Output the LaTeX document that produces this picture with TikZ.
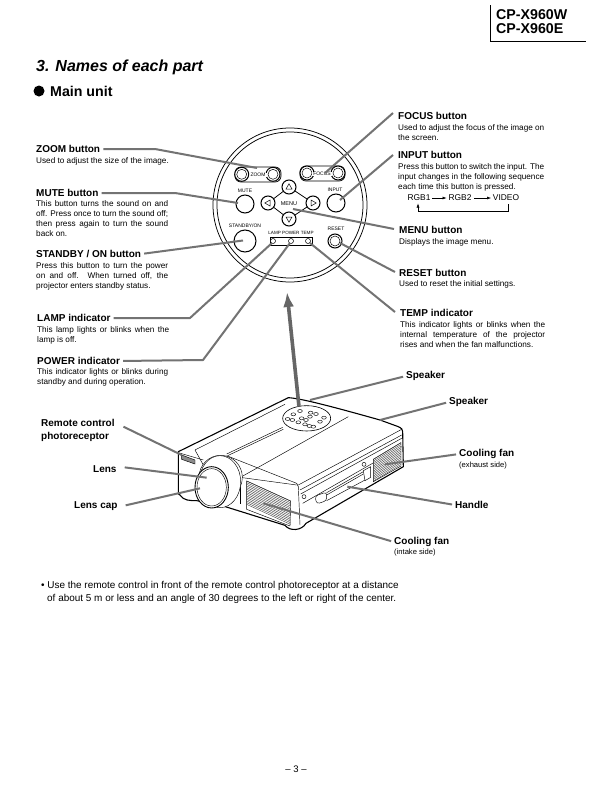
\documentclass[tikz,border=0pt]{standalone}
\usepackage{fontspec}
\setmainfont{Liberation Sans}
\usetikzlibrary{arrows.meta}
\newcommand\JL[2]{\hbox to #1pt{#2}}
\tikzset{
  x=1pt,y=-1pt,
  head/.style={anchor=west,inner sep=0pt,font=\fontsize{10}{12}\selectfont\bfseries},
  bodytxt/.style={anchor=north west,inner sep=0pt,align=left,font=\fontsize{8.2}{10.2}\selectfont},
  tiny/.style={inner sep=0pt,font=\fontsize{5}{6}\selectfont},
  lead/.style={draw=black!55,line width=2pt,shorten <=3pt,line join=round},
  panel/.style={draw=black,line width=0.75pt},
  btn/.style={draw=black,line width=1pt,fill=white},
  pj/.style={draw=black,line width=0.45pt},
  pjo/.style={draw=black,line width=1.1pt,line join=round},
  vent/.style={draw=black!75,line width=0.4pt},
}
\begin{document}
\begin{tikzpicture}
\useasboundingbox (0,0) rectangle (593,795);
\fill[white] (0,0) rectangle (593,795);
% header
\node[anchor=west,inner sep=0pt,font=\fontsize{14.2}{14}\selectfont\bfseries] (hw) at (496,15) {CP-X960W};
\node[anchor=west,inner sep=0pt,font=\fontsize{14.2}{14}\selectfont\bfseries] (he) at (496,29) {CP-X960E};
\coordinate (ha) at (490,5); \coordinate (hb) at (490,41); \coordinate (hc) at (586,41);
\draw[line width=1pt] (ha) -- (hb) -- (hc);
\node[anchor=west,inner sep=0pt,font=\fontsize{16}{20}\selectfont\bfseries\itshape] (title) at (36,67) {3. Names of each part};
\node[circle,fill=black,minimum size=11pt,inner sep=0pt] (dot) at (39,91) {};
\node[anchor=west,inner sep=0pt,font=\fontsize{14.2}{16}\selectfont\bfseries] (main) at (50,91) {Main unit};

% panel
\node[circle,panel,minimum size=154pt,inner sep=0pt] (circO) at (290,205) {};
\node[circle,panel,minimum size=146pt,inner sep=0pt] (circI) at (290,205) {};
\draw[panel,rounded corners=6pt] (235,167) rectangle (281,182);
\draw[panel,rounded corners=6pt] (300,166) rectangle (345,181);
\foreach \n/\x/\y in {zl/241.7/174.3,zr/273/174.3,fl/307/173,fr/338/173}{
  \node[circle,btn,minimum size=14pt,inner sep=0pt] (\n) at (\x,\y) {};
  \node[circle,draw=black,line width=0.5pt,minimum size=10pt,inner sep=0pt] (\n i) at (\x,\y) {};
}
\node[tiny,fill=white,inner xsep=1pt] (tzoom) at (258,175) {ZOOM};
\node[tiny,fill=white,inner xsep=1pt] (tfocus) at (322,174) {FOCUS};
% diamond
\draw[panel] (289,187) -- (313,203) -- (289,219) -- (268,203) -- cycle;
\node[tiny,fill=white,font=\fontsize{5.5}{6}\selectfont] (tmenu) at (289,204) {MENU};
\foreach \n/\x/\y/\a in {up/289/187/0,lf/268/203/90,rt/313/203/-90,dn/289/219/180}{
  \node[circle,btn,minimum size=14pt,inner sep=0pt] (\n) at (\x,\y) {};
  \begin{scope}[shift={(\x,\y)},rotate=\a]
    \draw[line width=0.5pt] (0,-3.2) -- (3,2) -- (-3,2) -- cycle;
  \end{scope}
}
\node[circle,btn,minimum size=18pt,inner sep=0pt] (mute) at (245,204) {};
\node[circle,btn,minimum size=18pt,inner sep=0pt] (input) at (336,203) {};
\node[circle,btn,minimum size=22pt,inner sep=0pt] (stby) at (245,241) {};
\node[circle,btn,minimum size=14pt,inner sep=0pt] (reset) at (335,241) {};
\node[circle,draw=black,line width=0.5pt,minimum size=10pt,inner sep=0pt] (reseti) at (335,241) {};
\node[tiny] (lmute) at (245,191) {MUTE};
\node[tiny] (linput) at (335,190) {INPUT};
\node[tiny] (lstby) at (245,226) {STANDBY/ON};
\node[tiny] (lreset) at (336,229) {RESET};
\node[tiny,font=\fontsize{4.6}{6}\selectfont] (lleds) at (291,233) {LAMP POWER TEMP};
\draw[panel] (270,237) rectangle (312,245);
\foreach \n/\x in {ll/273,lp/291,lt/308}{
  \node[circle,draw=black,fill=white,line width=0.5pt,minimum size=5pt,inner sep=0pt] (\n) at (\x,241) {};
}

% left labels
\node[head] (hzoom) at (36,149) {ZOOM button};
\node[bodytxt] (bzoom) at (36,157) {Used to adjust the size of the image.};
\node[head] (hmute) at (36,193) {MUTE button};
\node[bodytxt] (bmute) at (36,200) {\JL{132}{This button turns the sound on and}\\\JL{132}{off. Press once to turn the sound off;}\\\JL{132}{then press again to turn the sound}\\back on.};
\node[head] (hstby) at (36,254) {STANDBY / ON button};
\node[bodytxt] (bstby) at (36,262) {\JL{132}{Press this button to turn the power}\\\JL{132}{on and off. When turned off, the}\\projector enters standby status.};
\node[head] (hlamp) at (37,318) {LAMP indicator};
\node[bodytxt] (blamp) at (37,326) {\JL{132}{This lamp lights or blinks when the}\\lamp is off.};
\node[head] (hpower) at (37,361) {POWER indicator};
\node[bodytxt] (bpower) at (37,368) {\JL{131}{This indicator lights or blinks during}\\standby and during operation.};

% right labels
\node[head] (hfocus) at (398,116) {FOCUS button};
\node[bodytxt] (bfocus) at (398,124) {\JL{146}{Used to adjust the focus of the image on}\\the screen.};
\node[head] (hinput) at (398,155) {INPUT button};
\node[bodytxt] (binput) at (398,163) {\JL{146}{Press this button to switch the input. The}\\\JL{146}{input changes in the following sequence}\\each time this button is pressed.};
\node[inner sep=0pt,font=\fontsize{8.4}{10}\selectfont] (rgba) at (419,198) {RGB1};
\node[inner sep=0pt,font=\fontsize{8.4}{10}\selectfont] (rgbb) at (460,198) {RGB2};
\node[inner sep=0pt,font=\fontsize{8.4}{10}\selectfont] (rgbc) at (506,198) {VIDEO};
\draw[-{Latex[length=4pt,width=3pt]},line width=0.5pt] (rgba) ++(13,0) -- (446.5,198);
\draw[-{Latex[length=4pt,width=3pt]},line width=0.5pt] (rgbb) ++(14,0) -- (491,198);
\coordinate (retA) at (508,204); \coordinate (retB) at (508,211); \coordinate (retC) at (418,211); \coordinate (retD) at (418,203.5);
\draw[-{Latex[length=4pt,width=3pt]},line width=0.5pt] (retA) -- (retB) -- (retC) -- (retD);
\node[head] (hmenu) at (399,230) {MENU button};
\node[bodytxt] (bmenu) at (399,238) {Displays the image menu.};
\node[head] (hreset) at (399,273) {RESET button};
\node[bodytxt] (breset) at (399,280) {Used to reset the initial settings.};
\node[head] (htemp) at (400,313) {TEMP indicator};
\node[bodytxt] (btemp) at (400,321) {\JL{145}{This indicator lights or blinks when the}\\\JL{145}{internal temperature of the projector}\\rises and when the fan malfunctions.};

% lower labels
\node[head] (sp1) at (406,376) {Speaker};
\node[head] (sp2) at (449,402) {Speaker};
\node[head] (cf1) at (459,454) {Cooling fan};
\node[anchor=west,inner sep=0pt,font=\fontsize{7.6}{9}\selectfont] (cf1b) at (459,466) {(exhaust side)};
\node[head] (hand) at (455,505) {Handle};
\node[head] (cf2) at (394,542) {Cooling fan};
\node[anchor=west,inner sep=0pt,font=\fontsize{7.6}{9}\selectfont] (cf2b) at (394,553) {(intake side)};
\node[head,anchor=north west,align=left,font=\fontsize{10}{13}\selectfont\bfseries] (rc) at (41,419) {Remote control\\photoreceptor};
\node[head] (lens) at (93,469) {Lens};
\node[head] (cap) at (74,506) {Lens cap};

% projector
\begin{scope}[shift={(100,370)},x=0.33333pt,y=-0.33333pt]
  \draw[pjo,fill=white] (235,245) -- (565,83) .. controls (600,85) and (680,105) .. (840,150) -- (895,170) .. controls (905,175) and (908,178) .. (908,185) -- (910,290) -- (618,460) .. controls (605,482) and (570,485) .. (555,466) -- (360,405) -- (290,392) .. controls (270,392) and (250,392) .. (240,375) -- (235,372) -- cycle;
  % top face
  \draw[pj] (285,240) -- (555,103);
  \draw[pj] (235,248) -- (310,270);
  \draw[pj] (285,240) -- (310,285);
  \draw[pj] (380,257) -- (590,340) -- (595,350) -- (600,465);
  \draw[pj] (420,322) -- (590,345);
  \draw[pj] (425,320) -- (745,140);
  \draw[pj] (380,252) -- (548,172);
  \draw[pj] (383,257) -- (550,178);
  \draw[pj] (595,345) -- (905,178);
  \draw[pj] (600,360) -- (905,195);
  \draw[pj] (602,372) -- (905,205);
  \draw[pj] (420,325) -- (420,402);
  \draw[pj] (608,400) -- (905,230);
  % keypad
  \draw[pj,fill=white,line width=0.6pt] (620,145) ellipse (72 and 38);
  \foreach \x/\y in {600/123,580/133,563/147,577/150,605/145,618/150,632/128,648/132,672/143,660/155,595/157,615/163,628/168,640/170,630/140}{
    \draw[pj,fill=white] (\x,\y) ellipse (7 and 4.5);
  }
  % IR window
  \draw[pj,fill=black!45] (245,255) -- (285,270) -- (285,282) -- (245,268) -- cycle;
  % lens barrel
  \draw[pj,fill=white] (362,322) ellipse (65 and 66);
  \draw[pj,fill=white] (360,335) ellipse (62 and 78);
  \draw[pj,line width=0.9pt,fill=white] (335,352) ellipse (50 and 62);
  \draw[pj,fill=white] (335,352) ellipse (44 and 56);
  % front vent
  \draw[pj] (440,333) -- (572,393) -- (570,468) -- (440,418) -- cycle;
  \foreach \d in {0,5,...,72}{
    \draw[vent] (440,333+\d) -- (571,393+\d);
  }
  % side vent
  \draw[pj,fill=white] (820,268) -- (903,218) -- (903,288) -- (820,335) -- cycle;
  \foreach \d in {0,5,...,65}{
    \draw[vent] (820,268+\d) -- (903,218+\d);
  }
  % handle
  \draw[pj,fill=white,rounded corners=3pt] (645,378) -- (680,366) -- (680,392) -- (650,402) -- cycle;
  \draw[pj] (680,368) -- (790,305);
  \draw[pj] (680,375) -- (790,312);
  \draw[pj] (680,392) -- (795,330);
  \draw[pj,fill=white] (790,302) -- (812,290) -- (812,322) -- (795,332) -- cycle;
  \draw[pj] (612,380) circle (6);
  \draw[pj] (792,283) circle (6);
  % named lead targets
  \coordinate (tsp1) at (630,90);
  \coordinate (tsp2) at (840,150);
  \coordinate (tcf1) at (855,283);
  \coordinate (than) at (742,350);
  \coordinate (tcf2) at (490,400);
  \coordinate (trc) at (245,255);
  \coordinate (tlen) at (320,323);
  \coordinate (tcap) at (300,355);
  \coordinate (tarr) at (597,110);
\end{scope}

% panel leads
\coordinate (bz) at (155,149); \coordinate (tz) at (257,168);
\coordinate (bm) at (175,193); \coordinate (tm) at (238,203);
\coordinate (tf) at (325,173); \coordinate (ti) at (340,200);
\coordinate (tme) at (293,209); \coordinate (tre) at (340,243);
\coordinate (tte) at (310,243); \coordinate (tst) at (243,240.5);
\coordinate (bl) at (190,318); \coordinate (bp) at (203,360);
\coordinate (tl) at (272,243); \coordinate (tp) at (290,243);
\coordinate (sf) at (393,113); \coordinate (si) at (393,155);
\coordinate (sme) at (394,229); \coordinate (sre) at (395,272); \coordinate (ste) at (395,312);
\draw[lead] (hzoom.east) -- (bz) -- (tz);
\draw[lead] (hmute.east) -- (bm) -- (tm);
\draw[lead] (hstby.east) -- (tst);
\draw[lead] (hlamp.east) -- (bl) -- (tl);
\draw[lead] (hpower.east) -- (bp) -- (tp);
\draw[lead,shorten <=0pt] (sf) -- (tf);
\draw[lead,shorten <=0pt] (si) -- (ti);
\draw[lead,shorten <=0pt] (sme) -- (tme);
\draw[lead,shorten <=0pt] (sre) -- (tre);
\draw[lead,shorten <=0pt] (ste) -- (tte);
% lower leads
\draw[lead] (sp1.west) -- (tsp1);
\draw[lead] (sp2.west) -- (tsp2);
\draw[lead] (cf1.west) -- (tcf1);
\draw[lead] (hand.west) -- (than);
\draw[lead] (cf2.west) -- (tcf2);
\draw[lead] (rc.east) ++(6,-5) -- (trc);
\draw[lead] (lens.east) ++(5,-2) -- (tlen);
\draw[lead] (cap.east) ++(5,0) -- (tcap);
% big arrow
\coordinate (atip) at (287,292);
\draw[draw=black!60,line width=3.6pt,-{Latex[length=15pt,width=11pt]}] (tarr) -- (atip);

% note
\node[anchor=west,inner sep=0pt,font=\fontsize{9.95}{12}\selectfont] (n1) at (41,586) {\textbullet\ Use the remote control in front of the remote control photoreceptor at a distance};
\node[anchor=west,inner sep=0pt,font=\fontsize{9.95}{12}\selectfont] (n2) at (47,599) {of about 5 m or less and an angle of 30 degrees to the left or right of the center.};
\node[inner sep=0pt,font=\fontsize{9.5}{12}\selectfont] (pg) at (296,769) {– 3 –};
\end{tikzpicture}
\end{document}
